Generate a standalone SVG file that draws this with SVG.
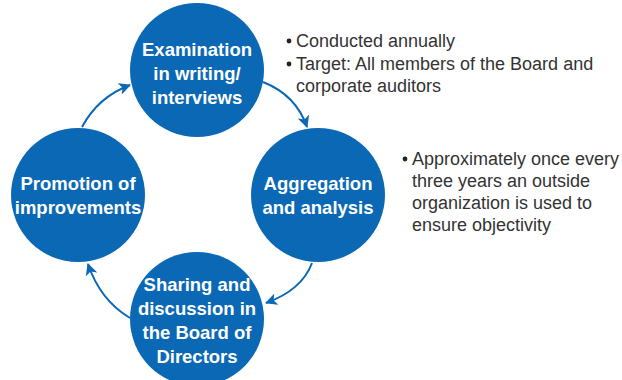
<svg xmlns="http://www.w3.org/2000/svg" width="622" height="380" viewBox="0 0 622 380">
<style>
.c{fill:#0a68b5}
.t{font-family:"Liberation Sans",Arial,sans-serif;font-weight:bold;font-size:18.5px;fill:#fff;text-anchor:middle}
.n{font-family:"Liberation Sans",Arial,sans-serif;font-size:18px;fill:#333}
.a{fill:none;stroke:#0a68b5;stroke-width:2}
</style>
<defs>
<marker id="ah" viewBox="0 0 12 12" refX="11" refY="6" markerWidth="12" markerHeight="12" markerUnits="userSpaceOnUse" orient="auto">
<path d="M0,0 L12,6 L0,12 L3,6 Z" fill="#0a68b5"/>
</marker>
</defs>
<rect width="622" height="380" fill="#fff"/>
<g id="connectors">
<path class="a" d="M263,82 Q296,95 307,127" marker-end="url(#ah)"/>
<path class="a" d="M312,263 Q302,290 266,303" marker-end="url(#ah)"/>
<path class="a" d="M130,318 Q100,300 88,264" marker-end="url(#ah)"/>
<path class="a" d="M82,127 Q98,97 130,85" marker-end="url(#ah)"/>
</g>
<g id="examination">
<circle class="c" cx="197" cy="70" r="67"/>
<text class="t" x="197" y="56">Examination</text>
<text class="t" x="197" y="80">in writing/</text>
<text class="t" x="197" y="104">interviews</text>
</g>
<g id="aggregation">
<circle class="c" cx="318" cy="195" r="67"/>
<text class="t" x="318" y="190">Aggregation</text>
<text class="t" x="318" y="214">and analysis</text>
</g>
<g id="promotion">
<circle class="c" cx="78" cy="195" r="67"/>
<text class="t" x="78" y="190">Promotion of</text>
<text class="t" x="78" y="214">improvements</text>
</g>
<g id="sharing">
<circle class="c" cx="197" cy="319" r="67"/>
<text class="t" x="197" y="291">Sharing and</text>
<text class="t" x="197" y="315">discussion in</text>
<text class="t" x="197" y="339">the Board of</text>
<text class="t" x="197" y="363">Directors</text>
</g>
<g id="note1">
<circle cx="289" cy="41" r="2.4" fill="#222"/>
<text class="n" x="296" y="47">Conducted annually</text>
<circle cx="289" cy="64" r="2.4" fill="#222"/>
<text class="n" x="296" y="70">Target: All members of the Board and</text>
<text class="n" x="296" y="92">corporate auditors</text>
</g>
<g id="note2">
<circle cx="405" cy="159" r="2.4" fill="#222"/>
<text class="n" x="412" y="165">Approximately once every</text>
<text class="n" x="412" y="187">three years an outside</text>
<text class="n" x="412" y="209">organization is used to</text>
<text class="n" x="412" y="231">ensure objectivity</text>
</g>
</svg>
